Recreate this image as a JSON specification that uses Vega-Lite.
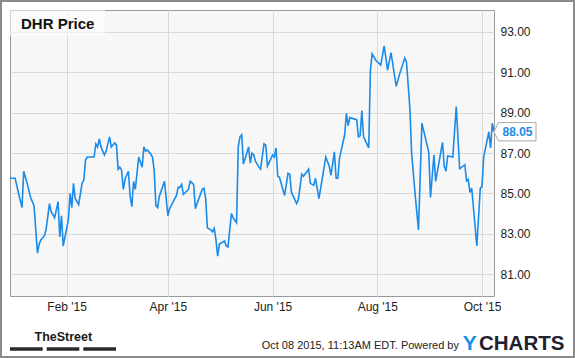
{
  "$schema": "https://vega.github.io/schema/vega-lite/v6.json",
  "width": 484,
  "height": 286,
  "autosize": {"type": "none"},
  "padding": {"left": 10, "top": 10, "right": 81, "bottom": 62},
  "background": "#ffffff",
  "config": {
    "font": "Liberation Sans",
    "view": {"fill": "#f7f7f7", "stroke": "#9a9a9a", "strokeWidth": 1},
    "axis": {
      "grid": true,
      "gridColor": "#d9d9d9",
      "gridWidth": 1,
      "domain": false,
      "ticks": false,
      "labelFont": "Liberation Sans",
      "labelFontSize": 12,
      "labelColor": "#222222"
    },
    "axisX": {
      "labelExpr": "utcFormat(datum.value, '%b') + \" '\" + utcFormat(datum.value, '%y')",
      "labelPadding": 5,
      "labelFlush": false,
      "labelOverlap": false,
      "labelAlign": "center"
    }
  },
  "layer": [
    {
      "data": {
        "values": [
          {"date": "2014-12-30", "price": 85.75}, {"date": "2015-01-02", "price": 85.75}, {"date": "2015-01-04", "price": 85.0},
          {"date": "2015-01-06", "price": 84.3}, {"date": "2015-01-07", "price": 86.1}, {"date": "2015-01-09", "price": 85.5},
          {"date": "2015-01-11", "price": 84.8}, {"date": "2015-01-13", "price": 84.4}, {"date": "2015-01-15", "price": 82.05},
          {"date": "2015-01-16", "price": 82.5}, {"date": "2015-01-17", "price": 82.7}, {"date": "2015-01-19", "price": 82.9},
          {"date": "2015-01-20", "price": 83.2}, {"date": "2015-01-22", "price": 84.5}, {"date": "2015-01-23", "price": 84.1},
          {"date": "2015-01-25", "price": 83.8}, {"date": "2015-01-27", "price": 84.6}, {"date": "2015-01-28", "price": 82.85},
          {"date": "2015-01-29", "price": 83.9}, {"date": "2015-01-30", "price": 82.4}, {"date": "2015-02-02", "price": 83.7},
          {"date": "2015-02-03", "price": 85.0}, {"date": "2015-02-04", "price": 84.3}, {"date": "2015-02-05", "price": 85.5},
          {"date": "2015-02-06", "price": 84.75}, {"date": "2015-02-08", "price": 84.45}, {"date": "2015-02-10", "price": 85.5},
          {"date": "2015-02-11", "price": 85.65}, {"date": "2015-02-12", "price": 86.65}, {"date": "2015-02-13", "price": 86.8},
          {"date": "2015-02-17", "price": 86.8}, {"date": "2015-02-18", "price": 87.45}, {"date": "2015-02-19", "price": 87.3},
          {"date": "2015-02-20", "price": 87.7}, {"date": "2015-02-21", "price": 87.3}, {"date": "2015-02-23", "price": 86.9},
          {"date": "2015-02-24", "price": 87.1}, {"date": "2015-02-26", "price": 87.8}, {"date": "2015-02-27", "price": 87.3},
          {"date": "2015-03-01", "price": 87.5}, {"date": "2015-03-02", "price": 87.4}, {"date": "2015-03-03", "price": 86.2},
          {"date": "2015-03-04", "price": 86.3}, {"date": "2015-03-05", "price": 86.15}, {"date": "2015-03-06", "price": 85.2},
          {"date": "2015-03-07", "price": 85.7}, {"date": "2015-03-09", "price": 86.1}, {"date": "2015-03-10", "price": 84.85},
          {"date": "2015-03-11", "price": 84.35}, {"date": "2015-03-12", "price": 85.6}, {"date": "2015-03-13", "price": 85.2},
          {"date": "2015-03-15", "price": 86.8}, {"date": "2015-03-17", "price": 86.3}, {"date": "2015-03-18", "price": 87.3},
          {"date": "2015-03-19", "price": 87.1}, {"date": "2015-03-20", "price": 87.15}, {"date": "2015-03-22", "price": 86.95},
          {"date": "2015-03-23", "price": 86.8}, {"date": "2015-03-24", "price": 86.15}, {"date": "2015-03-25", "price": 84.4},
          {"date": "2015-03-26", "price": 84.3}, {"date": "2015-03-27", "price": 84.85}, {"date": "2015-03-30", "price": 85.6},
          {"date": "2015-04-01", "price": 83.9}, {"date": "2015-04-02", "price": 84.25}, {"date": "2015-04-06", "price": 84.9},
          {"date": "2015-04-07", "price": 85.3}, {"date": "2015-04-08", "price": 85.3}, {"date": "2015-04-09", "price": 85.45},
          {"date": "2015-04-10", "price": 84.95}, {"date": "2015-04-13", "price": 85.2}, {"date": "2015-04-14", "price": 85.6},
          {"date": "2015-04-16", "price": 85.45}, {"date": "2015-04-17", "price": 84.25}, {"date": "2015-04-18", "price": 84.5},
          {"date": "2015-04-21", "price": 85.2}, {"date": "2015-04-22", "price": 85.25}, {"date": "2015-04-23", "price": 84.75},
          {"date": "2015-04-24", "price": 83.3}, {"date": "2015-04-26", "price": 83.2}, {"date": "2015-04-27", "price": 83.1},
          {"date": "2015-04-28", "price": 83.27}, {"date": "2015-04-29", "price": 82.7}, {"date": "2015-04-30", "price": 81.9},
          {"date": "2015-05-01", "price": 82.5}, {"date": "2015-05-03", "price": 82.6}, {"date": "2015-05-04", "price": 82.65},
          {"date": "2015-05-05", "price": 82.4}, {"date": "2015-05-06", "price": 82.35}, {"date": "2015-05-08", "price": 84.0},
          {"date": "2015-05-09", "price": 83.8}, {"date": "2015-05-11", "price": 83.55}, {"date": "2015-05-12", "price": 87.3},
          {"date": "2015-05-13", "price": 87.8}, {"date": "2015-05-14", "price": 87.9}, {"date": "2015-05-15", "price": 86.45},
          {"date": "2015-05-18", "price": 87.3}, {"date": "2015-05-19", "price": 86.5}, {"date": "2015-05-20", "price": 87.0},
          {"date": "2015-05-21", "price": 86.9}, {"date": "2015-05-22", "price": 86.6}, {"date": "2015-05-24", "price": 86.3},
          {"date": "2015-05-25", "price": 86.2}, {"date": "2015-05-27", "price": 87.45}, {"date": "2015-05-28", "price": 87.4},
          {"date": "2015-05-29", "price": 86.35}, {"date": "2015-06-01", "price": 86.9}, {"date": "2015-06-02", "price": 86.8},
          {"date": "2015-06-03", "price": 87.25}, {"date": "2015-06-04", "price": 85.85}, {"date": "2015-06-05", "price": 85.8},
          {"date": "2015-06-08", "price": 84.9}, {"date": "2015-06-10", "price": 86.0}, {"date": "2015-06-11", "price": 85.95},
          {"date": "2015-06-12", "price": 85.05}, {"date": "2015-06-15", "price": 84.5}, {"date": "2015-06-16", "price": 84.7},
          {"date": "2015-06-18", "price": 85.95}, {"date": "2015-06-19", "price": 85.85}, {"date": "2015-06-22", "price": 86.2},
          {"date": "2015-06-23", "price": 85.5}, {"date": "2015-06-25", "price": 85.4}, {"date": "2015-06-26", "price": 85.75},
          {"date": "2015-06-28", "price": 84.75}, {"date": "2015-07-02", "price": 86.8}, {"date": "2015-07-04", "price": 86.35},
          {"date": "2015-07-05", "price": 85.9}, {"date": "2015-07-07", "price": 87.06}, {"date": "2015-07-08", "price": 85.75},
          {"date": "2015-07-09", "price": 85.75}, {"date": "2015-07-10", "price": 86.75}, {"date": "2015-07-13", "price": 87.9},
          {"date": "2015-07-14", "price": 88.96}, {"date": "2015-07-15", "price": 88.35}, {"date": "2015-07-16", "price": 88.75},
          {"date": "2015-07-18", "price": 88.7}, {"date": "2015-07-20", "price": 88.65}, {"date": "2015-07-21", "price": 87.8},
          {"date": "2015-07-22", "price": 87.85}, {"date": "2015-07-23", "price": 89.1}, {"date": "2015-07-24", "price": 87.8},
          {"date": "2015-07-27", "price": 87.25}, {"date": "2015-07-28", "price": 91.1}, {"date": "2015-07-29", "price": 91.9},
          {"date": "2015-07-31", "price": 91.6}, {"date": "2015-08-03", "price": 91.35}, {"date": "2015-08-05", "price": 92.3},
          {"date": "2015-08-07", "price": 91.1}, {"date": "2015-08-09", "price": 91.96}, {"date": "2015-08-12", "price": 90.3},
          {"date": "2015-08-14", "price": 90.9}, {"date": "2015-08-17", "price": 91.7}, {"date": "2015-08-18", "price": 91.5},
          {"date": "2015-08-20", "price": 89.2}, {"date": "2015-08-21", "price": 87.0}, {"date": "2015-08-23", "price": 85.0},
          {"date": "2015-08-25", "price": 83.2}, {"date": "2015-08-27", "price": 88.48}, {"date": "2015-08-31", "price": 87.03},
          {"date": "2015-09-01", "price": 84.8}, {"date": "2015-09-03", "price": 86.9}, {"date": "2015-09-04", "price": 85.6},
          {"date": "2015-09-08", "price": 87.53}, {"date": "2015-09-09", "price": 86.35}, {"date": "2015-09-10", "price": 86.1},
          {"date": "2015-09-11", "price": 86.85}, {"date": "2015-09-14", "price": 86.8}, {"date": "2015-09-16", "price": 89.3},
          {"date": "2015-09-18", "price": 86.22}, {"date": "2015-09-21", "price": 86.42}, {"date": "2015-09-22", "price": 85.62},
          {"date": "2015-09-23", "price": 85.7}, {"date": "2015-09-24", "price": 85.05}, {"date": "2015-09-25", "price": 85.27},
          {"date": "2015-09-28", "price": 82.4}, {"date": "2015-09-30", "price": 85.25}, {"date": "2015-10-01", "price": 85.35},
          {"date": "2015-10-02", "price": 86.8}, {"date": "2015-10-05", "price": 88.05}, {"date": "2015-10-06", "price": 87.25},
          {"date": "2015-10-07", "price": 88.47}, {"date": "2015-10-08", "price": 88.05}
        ],
        "format": {"parse": {"date": "utc:'%Y-%m-%d'"}}
      },
      "mark": {"type": "line", "color": "#1a8be8", "strokeWidth": 1.6},
      "encoding": {
        "x": {
          "field": "date",
          "type": "temporal",
          "title": null,
          "scale": {"type": "utc", "domain": [{"year": 2014, "month": 12, "date": 30, "utc": true}, {"year": 2015, "month": 10, "date": 8, "utc": true}], "nice": false},
          "axis": {"values": [{"year": 2015, "month": 2, "date": 1, "utc": true}, {"year": 2015, "month": 4, "date": 1, "utc": true}, {"year": 2015, "month": 6, "date": 1, "utc": true}, {"year": 2015, "month": 8, "date": 1, "utc": true}, {"year": 2015, "month": 10, "date": 1, "utc": true}], "labelExpr": "utcFormat(datum.value, '%b') + \" '\" + utcFormat(datum.value, '%y')"}
        },
        "y": {
          "field": "price",
          "type": "quantitative",
          "title": null,
          "scale": {"domain": [79.93, 94.07], "nice": false, "zero": false},
          "axis": {"orient": "right", "values": [81, 83, 85, 87, 89, 91, 93], "format": ".2f", "labelPadding": 6, "labelAlign": "left", "labelOverlap": false}
        }
      }
    },
    {
      "data": {"values": [{}]},
      "mark": {"type": "rect", "fillOpacity": 0, "stroke": "#8a8a8a", "strokeWidth": 2},
      "encoding": {
        "x": {"datum": {"year": 2014, "month": 12, "date": 24, "hours": 18, "minutes": 9, "utc": true}, "type": "temporal", "title": null},
        "x2": {"datum": {"year": 2015, "month": 11, "date": 23, "hours": 14, "minutes": 38, "utc": true}},
        "y": {"datum": 94.515, "type": "quantitative", "title": null},
        "y2": {"datum": 76.914}
      }
    },
    {
      "data": {"values": [{}]},
      "mark": {"type": "rect", "fill": "#ffffff", "fillOpacity": 0.55},
      "encoding": {
        "x": {"datum": {"year": 2014, "month": 12, "date": 30, "utc": true}, "type": "temporal", "title": null},
        "x2": {"datum": {"year": 2015, "month": 2, "date": 23, "hours": 8, "minutes": 24, "utc": true}},
        "y": {"datum": 94.07, "type": "quantitative", "title": null},
        "y2": {"datum": 92.78}
      }
    },
    {
      "data": {"values": [{}]},
      "mark": {"type": "text", "text": "DHR Price", "align": "left", "baseline": "alphabetic", "font": "Liberation Sans", "fontSize": 15, "fontWeight": "bold", "color": "#111111"},
      "encoding": {
        "x": {"datum": {"year": 2015, "month": 1, "date": 5, "hours": 9, "minutes": 50, "utc": true}, "type": "temporal", "title": null},
        "y": {"datum": 93.13, "type": "quantitative", "title": null}
      }
    },
    {
      "data": {"values": [{}]},
      "mark": {"type": "point", "shape": "M-1,0L-0.79,-0.436L1,-0.436L1,0.436L-0.79,0.436Z", "size": 1764, "filled": true, "fill": "#ffffff", "stroke": "#a8a8a8", "strokeWidth": 1, "opacity": 1},
      "encoding": {
        "x": {"datum": {"year": 2015, "month": 10, "date": 20, "hours": 5, "minutes": 45, "utc": true}, "type": "temporal", "title": null},
        "y": {"datum": 88.05, "type": "quantitative", "title": null}
      }
    },
    {
      "data": {"values": [{}]},
      "mark": {"type": "text", "text": "88.05", "align": "center", "baseline": "middle", "font": "Liberation Sans", "fontSize": 12, "fontWeight": "bold", "color": "#1a8be8"},
      "encoding": {
        "x": {"datum": {"year": 2015, "month": 10, "date": 21, "hours": 16, "minutes": 48, "utc": true}, "type": "temporal", "title": null},
        "y": {"datum": 88.05, "type": "quantitative", "title": null}
      }
    },
    {
      "data": {"values": [{}]},
      "mark": {"type": "text", "text": "TheStreet", "align": "center", "baseline": "alphabetic", "font": "Liberation Sans", "fontSize": 12.5, "fontWeight": "bold", "color": "#1a1a1a"},
      "encoding": {
        "x": {"datum": {"year": 2015, "month": 1, "date": 30, "hours": 1, "minutes": 55, "utc": true}, "type": "temporal", "title": null},
        "y": {"datum": 77.72, "type": "quantitative", "title": null}
      }
    },
    {
      "data": {"values": [{}]},
      "mark": {"type": "rect", "color": "#2a2a2a"},
      "encoding": {
        "x": {"datum": {"year": 2014, "month": 12, "date": 30, "utc": true}, "type": "temporal", "title": null},
        "x2": {"datum": {"year": 2015, "month": 1, "date": 18, "hours": 1, "minutes": 12, "utc": true}},
        "y": {"datum": 77.394, "type": "quantitative", "title": null},
        "y2": {"datum": 77.226}
      }
    },
    {
      "data": {"values": [{}]},
      "mark": {"type": "rect", "color": "#2a2a2a"},
      "encoding": {
        "x": {"datum": {"year": 2015, "month": 1, "date": 20, "hours": 9, "minutes": 7, "utc": true}, "type": "temporal", "title": null},
        "x2": {"datum": {"year": 2015, "month": 2, "date": 8, "hours": 9, "minutes": 7, "utc": true}},
        "y": {"datum": 77.394, "type": "quantitative", "title": null},
        "y2": {"datum": 77.226}
      }
    },
    {
      "data": {"values": [{}]},
      "mark": {"type": "rect", "color": "#2a2a2a"},
      "encoding": {
        "x": {"datum": {"year": 2015, "month": 2, "date": 10, "hours": 17, "minutes": 2, "utc": true}, "type": "temporal", "title": null},
        "x2": {"datum": {"year": 2015, "month": 3, "date": 1, "hours": 18, "minutes": 14, "utc": true}},
        "y": {"datum": 77.394, "type": "quantitative", "title": null},
        "y2": {"datum": 77.226}
      }
    },
    {
      "data": {"values": [{}]},
      "mark": {"type": "text", "text": "Oct 08 2015, 11:13AM EDT. Powered by", "align": "right", "baseline": "alphabetic", "font": "Liberation Sans", "fontSize": 11, "color": "#222222"},
      "encoding": {
        "x": {"datum": {"year": 2015, "month": 9, "date": 17, "hours": 14, "minutes": 24, "utc": true}, "type": "temporal", "title": null},
        "y": {"datum": 77.31, "type": "quantitative", "title": null}
      }
    },
    {
      "data": {"values": [{}]},
      "mark": {"type": "text", "text": "Y", "align": "left", "baseline": "alphabetic", "font": "Liberation Sans", "fontSize": 21, "fontWeight": "bold", "color": "#1b8fe6"},
      "encoding": {
        "x": {"datum": {"year": 2015, "month": 9, "date": 19, "hours": 19, "minutes": 41, "utc": true}, "type": "temporal", "title": null},
        "y": {"datum": 77.26, "type": "quantitative", "title": null}
      }
    },
    {
      "data": {"values": [{}]},
      "mark": {"type": "text", "text": "CHARTS", "align": "left", "baseline": "alphabetic", "font": "Liberation Sans", "fontSize": 20.5, "fontWeight": "bold", "color": "#1e2230"},
      "encoding": {
        "x": {"datum": {"year": 2015, "month": 9, "date": 29, "hours": 6, "minutes": 14, "utc": true}, "type": "temporal", "title": null},
        "y": {"datum": 77.26, "type": "quantitative", "title": null}
      }
    }
  ]
}
